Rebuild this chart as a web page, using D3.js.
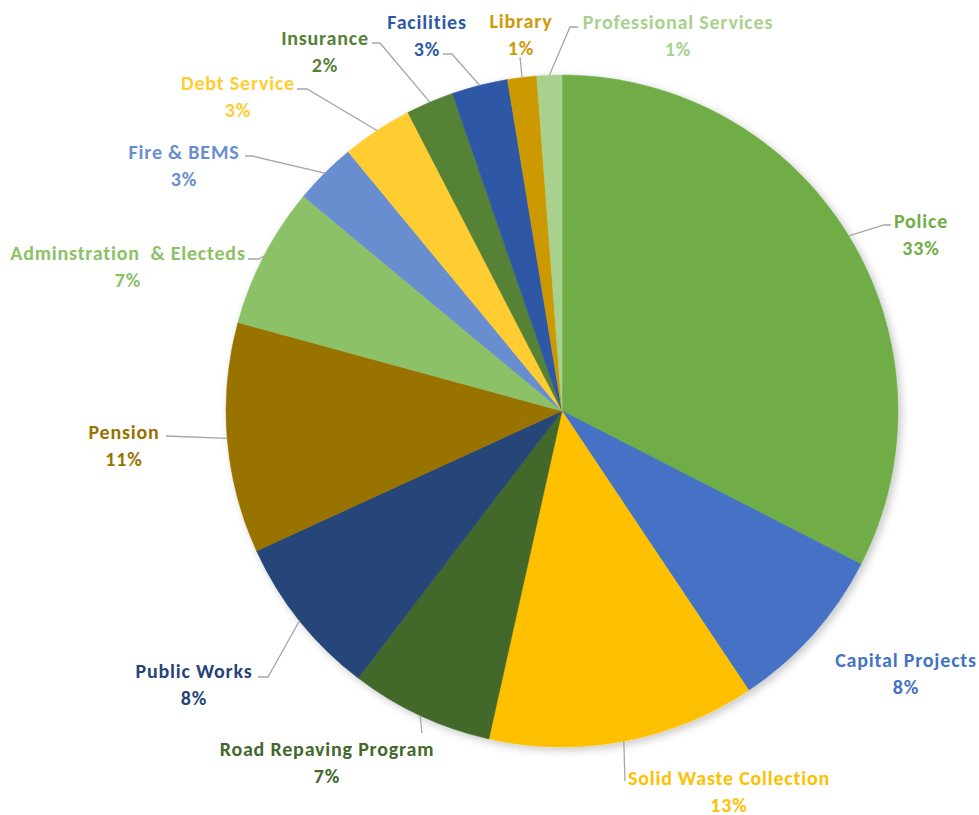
<!DOCTYPE html>
<html><head><meta charset="utf-8">
<script src="https://cdn.jsdelivr.net/npm/d3@7"></script>
<style>body{margin:0;background:#fff}</style>
</head><body>
<svg id="chart" width="979" height="815"></svg>
<script>
// ---- data ----
const categories = ["Police","Capital Projects","Solid Waste Collection","Road Repaving Program","Public Works","Pension","Adminstration  & Electeds","Fire & BEMS","Debt Service","Insurance","Facilities","Library","Professional Services"];
const values = [32.6, 8.1, 12.9, 6.9, 7.8, 11.1, 6.8, 3.0, 3.4, 2.3, 2.7, 1.4, 1.2];
const colors = ["#70AD47","#4472C4","#FFC000","#43682B","#264478","#997300","#8CC168","#698ED0","#FFCD33","#548235","#2F59A6","#CC9A06","#A9D18E"];

// ---- label layout (annotation placement) ----
const labelAnchor = [[921,221],[906,660],[729,778],[327,749],[194,671],[124,432],[128,253],[184,152],[238,83],[325,38],[427,22],[521,21],[678,22]];
const leaderPath = [
  [[884,225],[891,225]],
  null,
  [[625,781]],
  [[422,733]],
  [[268,677],[258,677]],
  [[166,436]],
  [[259,259],[248,259]],
  [[252,156],[245,156]],
  [[307,89],[297,89]],
  [[380,43],[372,43]],
  [[452,54],[443,54]],
  [[520,57]],
  [[570,27],[578,27]]
];

const cx = 562, cy = 411, R = 336;
const svg = d3.select("#chart");
const defs = svg.append("defs");
const f = defs.append("filter").attr("id","sh").attr("x","-10%").attr("y","-10%").attr("width","120%").attr("height","120%");
f.append("feDropShadow").attr("dx",3).attr("dy",3).attr("stdDeviation",4).attr("flood-color","#000").attr("flood-opacity",0.22);

const data = categories.map((c,i)=>({name:c, value:values[i], color:colors[i], i}));
const total = d3.sum(values);
const pie = d3.pie().value(d=>d.value).sort(null);
const arcs = pie(data);
const arc = d3.arc().innerRadius(0).outerRadius(R);

const g = svg.append("g").attr("transform",`translate(${cx},${cy})`);
g.append("g").attr("filter","url(#sh)")
  .selectAll("path").data(arcs).join("path")
  .attr("d",arc).attr("fill",d=>d.data.color)
  .attr("stroke",d=>d.data.color).attr("stroke-width",0.5);

// leader lines
const line = d3.line();
arcs.forEach((a,i)=>{
  if(!leaderPath[i]) return;
  const mid = (a.startAngle+a.endAngle)/2;
  const p0 = [cx + R*Math.sin(mid), cy - R*Math.cos(mid)];
  const pts = [p0, ...leaderPath[i]];
  svg.append("path").attr("d",line(pts)).attr("fill","none")
    .attr("stroke","#A6A6A6").attr("stroke-width",1.3);
});

// labels
const font = "Carlito, Calibri, Lato, sans-serif";
arcs.forEach((a,i)=>{
  const [x,y] = labelAnchor[i];
  const t = svg.append("text").attr("x",x).attr("y",y)
    .attr("text-anchor","middle").attr("fill",a.data.color)
    .attr("font-family",font).attr("font-weight","bold").attr("font-size",20)
    .attr("letter-spacing",0.8)
    .style("white-space","pre");
  t.append("tspan").attr("x",x).attr("dy","0.35em").text(a.data.name);
  t.append("tspan").attr("x",x).attr("dy",26.5).text(Math.round(a.data.value/total*100)+"%");
});
</script>
</body></html>
